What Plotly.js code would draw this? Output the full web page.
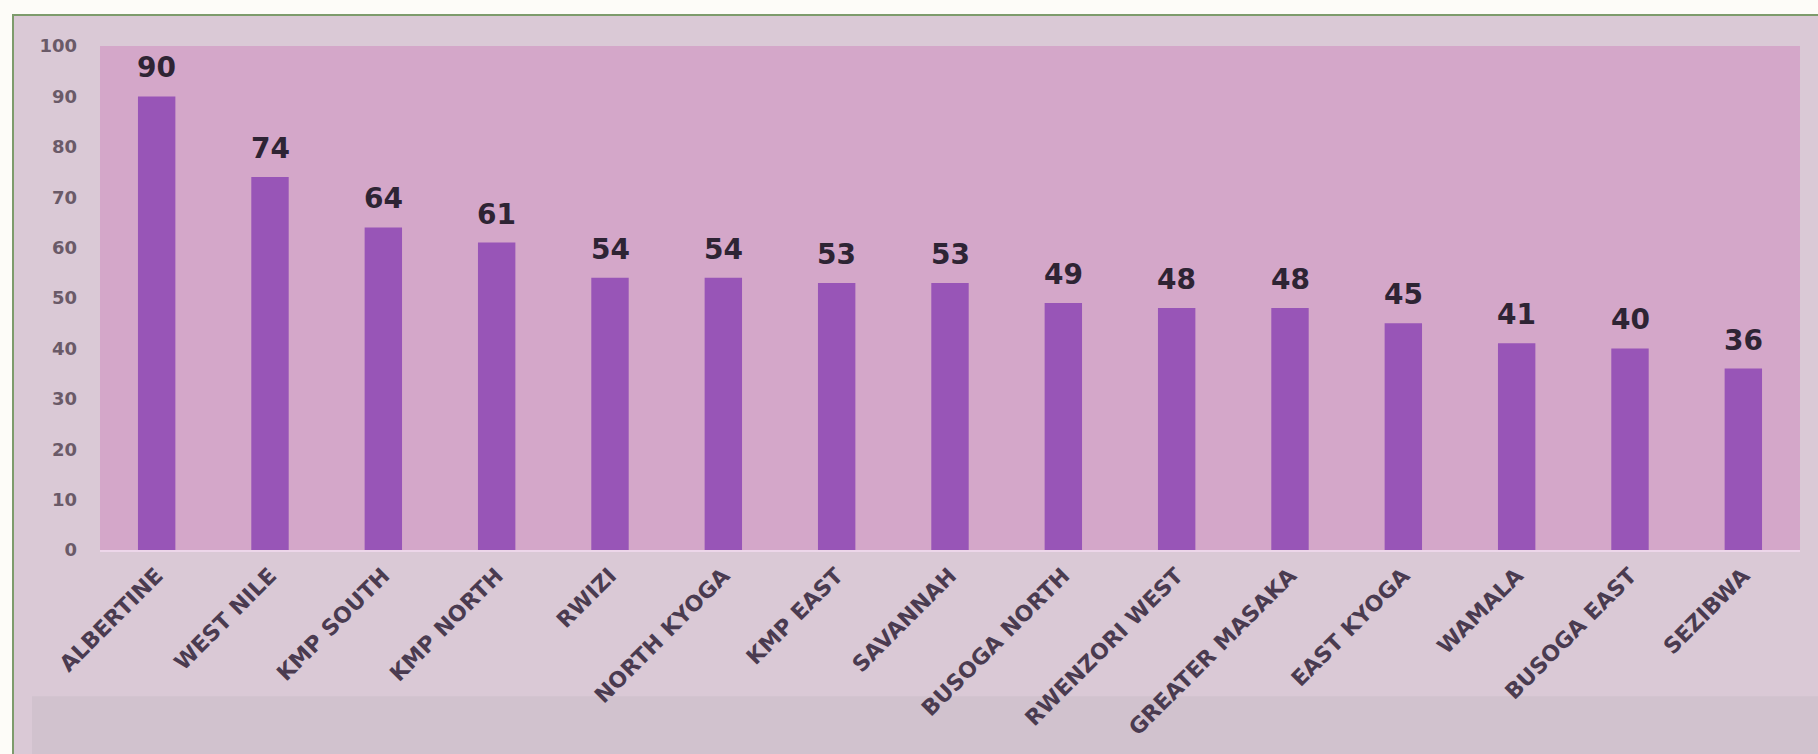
<!DOCTYPE html>
<html>
<head>
<meta charset="utf-8">
<script src="https://cdn.plot.ly/plotly-3.0.1.min.js"></script>
<style>
  html, body { margin: 0; padding: 0; width: 1818px; height: 754px; overflow: hidden; background: #fdfcf8; }
  #frame { position: absolute; left: 12px; top: 14px; width: 1806px; height: 740px;
           border-left: 2px solid #7d9b6c; border-top: 2px solid #7d9b6c; box-sizing: border-box; }
  #chart { position: absolute; left: 0; top: 0; width: 1804px; height: 738px; }
</style>
</head>
<body>
<div id="frame"><div id="chart"></div></div>
<script>
const regions = ["ALBERTINE", "WEST NILE", "KMP SOUTH", "KMP NORTH", "RWIZI", "NORTH KYOGA",
  "KMP EAST", "SAVANNAH", "BUSOGA NORTH", "RWENZORI WEST", "GREATER MASAKA", "EAST KYOGA",
  "WAMALA", "BUSOGA EAST", "SEZIBWA"];
const values = [90, 74, 64, 61, 54, 54, 53, 53, 49, 48, 48, 45, 41, 40, 36];
const yTicks = [0, 10, 20, 30, 40, 50, 60, 70, 80, 90, 100];

const trace = {
  type: "bar",
  x: regions,
  y: values,
  marker: { color: "#9855b7", line: { width: 0 } },
  hoverinfo: "x+y"
};

const valueLabels = regions.map((r, i) => ({
  x: r, y: values[i], xref: "x", yref: "y",
  text: String(values[i]), showarrow: false,
  yanchor: "bottom", yshift: 10,
  font: { family: "DejaVu Sans", size: 28, color: "#2e2434", weight: "bold" }
}));

const layout = {
  width: 1804, height: 738,
  margin: { l: 86, r: 18, t: 30, b: 204 },
  paper_bgcolor: "#dac9d6",
  plot_bgcolor: "#d4a7c9",
  bargap: 0.67,
  showlegend: false,
  font: { family: "DejaVu Sans" },
  xaxis: {
    type: "category",
    tickangle: -45,
    tickfont: { family: "DejaVu Sans", size: 22, color: "#4a3b50", weight: "bold" },
    showgrid: false,
    showline: true, linecolor: "#edd6ea", linewidth: 2,
    ticks: "", ticklabelstandoff: 2,
    range: [-0.5, 14.5]
  },
  yaxis: {
    range: [0, 100],
    tickvals: yTicks,
    ticktext: yTicks.map(String),
    tickfont: { family: "DejaVu Sans", size: 18, color: "#6a5a68", weight: "bold" },
    showgrid: false, zeroline: false, showline: false,
    ticks: "", ticklabelstandoff: 22
  },
  shapes: [
    { type: "rect", xref: "paper", yref: "paper", x0: -0.04, x1: 1.02, y0: -0.41, y1: -0.29,
      fillcolor: "#d1c2ce", line: { width: 0 }, layer: "below" }
  ],
  annotations: valueLabels
};

Plotly.newPlot("chart", [trace], layout, { displayModeBar: false, staticPlot: true });
</script>
</body>
</html>
